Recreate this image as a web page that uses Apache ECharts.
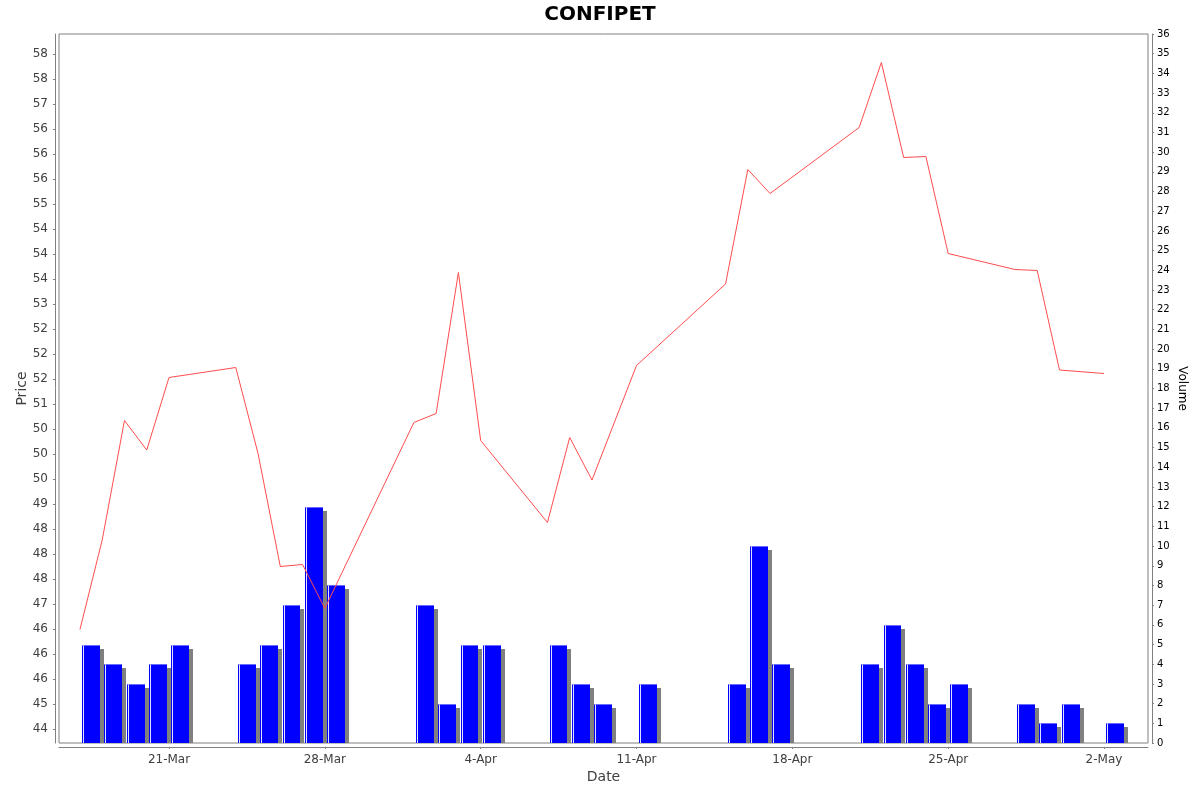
<!DOCTYPE html>
<html>
<head>
<meta charset="utf-8">
<script src="https://cdn.jsdelivr.net/npm/echarts@6/dist/echarts.min.js"></script>
<style>
html,body{margin:0;padding:0;background:#fff;}
#chart{width:1200px;height:792px;}
</style>
</head>
<body>
<div id="chart"></div>
<script>
// ---- data ----
const dates = ['2022-03-17','2022-03-18','2022-03-19','2022-03-20','2022-03-21','2022-03-24','2022-03-25','2022-03-26','2022-03-27','2022-03-28',
  '2022-04-01','2022-04-02','2022-04-03','2022-04-04','2022-04-07','2022-04-08','2022-04-09','2022-04-11','2022-04-15','2022-04-16',
  '2022-04-17','2022-04-21','2022-04-22','2022-04-23','2022-04-24','2022-04-25','2022-04-28','2022-04-29','2022-04-30','2022-05-02'];
const prices = [45.99, 47.78, 50.17, 49.58, 51.03, 51.23, 49.51, 47.25, 47.29, 46.41,
  50.13, 50.31, 53.13, 49.77, 48.13, 49.83, 48.98, 51.27, 52.90, 55.19,
  54.71, 56.03, 57.33, 55.43, 55.45, 53.51, 53.19, 53.17, 51.18, 51.11];
const volumes = [5, 4, 3, 4, 5, 4, 5, 7, 12, 8,
  7, 2, 5, 5, 5, 3, 2, 3, 3, 10,
  4, 4, 6, 4, 2, 3, 2, 1, 2, 1];
const dateTicks = ['2022-03-21','2022-03-28','2022-04-04','2022-04-11','2022-04-18','2022-04-25','2022-05-02'];
const priceTickLabels = ['44','45','46','46','46','47','48','48','48','49','50','50','50','51',
  '52','52','52','53','54','54','54','55','56','56','56','57','58','58'];
const priceTickStart = 44, priceTickStep = 0.5;

// ---- helpers ----
const DAY = 86400000;
const MONTHS = ['Jan','Feb','Mar','Apr','May','Jun','Jul','Aug','Sep','Oct','Nov','Dec'];
function ts(s){ const p = s.split('-').map(Number); return Date.UTC(p[0], p[1]-1, p[2]); }
const FONT = 'DejaVu Sans';

const priceData = dates.map((d,i)=>[ts(d), prices[i]]);
const volData = dates.map((d,i)=>[ts(d), volumes[i]]);
const tickTimes = dateTicks.map(ts);
const priceTickValues = priceTickLabels.map((_,i)=>priceTickStart + i*priceTickStep);

const xMin = ts('2022-03-21') - 4.941*DAY;
const xMax = ts('2022-05-02') + 1.976*DAY;

const chart = echarts.init(document.getElementById('chart'), null, {renderer:'canvas'});
const option = {
  animation:false,
  backgroundColor:'#ffffff',
  title:{text:'CONFIPET', left:'center', top:0,
    textStyle:{fontFamily:FONT, fontSize:20, fontWeight:'bold', color:'#000'}},
  grid:{left:59, top:34, width:1089, height:709, show:true, borderColor:'#808080', borderWidth:1,
    backgroundColor:'#ffffff', outerBoundsMode:'none', containLabel:false},
  xAxis:{
    type:'value', min:xMin, max:xMax, offset:4, scale:true,
    name:'Date', nameLocation:'middle', nameGap:23, nameMoveOverlap:false,
    nameTextStyle:{fontFamily:FONT, fontSize:14, color:'#404040'},
    axisLine:{show:true, onZero:false, lineStyle:{color:'#808080', width:1}},
    axisTick:{show:true, length:2, inside:false, customValues:tickTimes, lineStyle:{color:'#808080'}},
    axisLabel:{customValues:tickTimes, margin:7, fontFamily:FONT, fontSize:12, color:'#404040', hideOverlap:false,
      formatter:function(v){ const d=new Date(v); return d.getUTCDate()+'-'+MONTHS[d.getUTCMonth()]; }},
    splitLine:{show:false}, minorTick:{show:false}
  },
  yAxis:[{
    type:'value', position:'left', min:43.72, max:57.9, offset:4,
    name:'Price', nameLocation:'middle', nameGap:26, nameRotate:90, nameMoveOverlap:false,
    nameTextStyle:{fontFamily:FONT, fontSize:14, color:'#404040'},
    axisLine:{show:true, onZero:false, lineStyle:{color:'#808080', width:1}},
    axisTick:{show:true, length:2, customValues:priceTickValues, lineStyle:{color:'#808080'}},
    axisLabel:{customValues:priceTickValues, margin:7, fontFamily:FONT, fontSize:12, color:'#404040', hideOverlap:false,
      formatter:function(v){ const i=Math.round((v-priceTickStart)/priceTickStep); return priceTickLabels[i]!==undefined?priceTickLabels[i]:''; }},
    splitLine:{show:false}
  },{
    type:'value', position:'right', min:0, max:36, interval:1, offset:4,
    name:'Volume', nameLocation:'middle', nameGap:24, nameRotate:-90, nameMoveOverlap:false,
    nameTextStyle:{fontFamily:FONT, fontSize:12, color:'#000'},
    axisLine:{show:true, onZero:false, lineStyle:{color:'#808080', width:1}},
    axisTick:{show:true, length:2, lineStyle:{color:'#808080'}},
    axisLabel:{margin:5, fontFamily:FONT, fontSize:10, color:'#000', hideOverlap:false},
    splitLine:{show:false}
  }],
  series:[{
    type:'custom', name:'Volume', xAxisIndex:0, yAxisIndex:1, z:2, clip:true,
    data:volData, encode:{x:0, y:1},
    renderItem:function(params, api){
      const t = api.value(0), v = api.value(1);
      const tl = api.coord([t + 0.1*DAY, v]);
      const br = api.coord([t + 0.9*DAY, 0]);
      const x = Math.round(tl[0]), y = Math.round(tl[1]);
      const w = Math.round(br[0]) - x, base = Math.round(br[1]);
      const h = base - y;
      return {type:'group', children:[
        {type:'rect', shape:{x:x+4, y:y+4, width:w, height:Math.max(0,h-4)}, style:{fill:'#808080'}},
        {type:'rect', shape:{x:x, y:y, width:w, height:h}, style:{fill:'#0000ff'}},
        {type:'rect', shape:{x:x+1, y:y, width:1, height:h}, style:{fill:'rgba(235,235,255,0.95)'}},
        {type:'rect', shape:{x:x, y:y, width:w, height:1}, style:{fill:'rgba(150,150,255,0.7)'}}
      ]};
    }
  },{
    type:'line', name:'Price', xAxisIndex:0, yAxisIndex:0, z:3,
    data:priceData, showSymbol:false, symbol:'none',
    lineStyle:{color:'#ff4d4d', width:1}, itemStyle:{color:'#ff4d4d'}
  }]
};
chart.setOption(option);
</script>
</body>
</html>
